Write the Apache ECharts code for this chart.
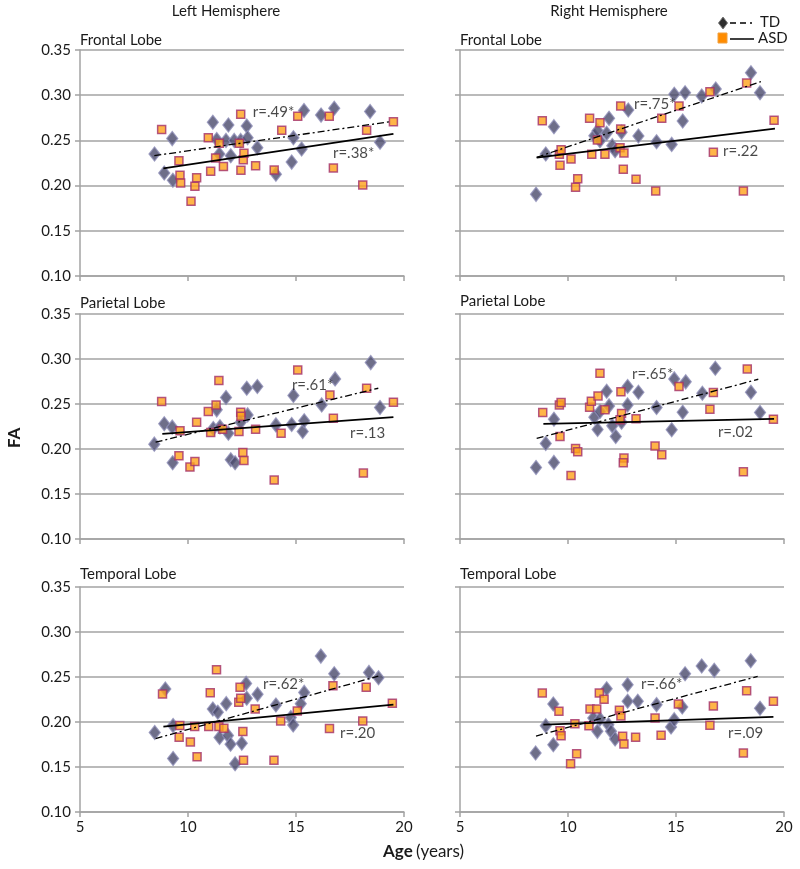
<!DOCTYPE html>
<html><head><meta charset="utf-8">
<script src="https://cdn.jsdelivr.net/npm/echarts@6/dist/echarts.min.js"></script>
<style>html,body{margin:0;padding:0;background:#fff}#c{width:800px;height:869px}</style>
</head><body><div id="c"></div><script>
// ---------- DATA ----------
const columnTitles = ['Left Hemisphere', 'Right Hemisphere'];
const panelTitles = ['Frontal Lobe', 'Frontal Lobe', 'Parietal Lobe', 'Parietal Lobe', 'Temporal Lobe', 'Temporal Lobe'];
const xTicks = [5, 10, 15, 20];
const yTicks = [0.10, 0.15, 0.20, 0.25, 0.30, 0.35];

const tdLeftFrontal = [[8.45,0.235],[8.9,0.214],[9.27,0.252],[9.3,0.206],[11.15,0.270],[11.33,0.251],[11.45,0.235],[11.76,0.250],[11.87,0.267],[11.98,0.233],[12.14,0.250],[12.44,0.250],[12.72,0.266],[12.76,0.253],[13.21,0.242],[14.07,0.2125],[14.8,0.226],[14.88,0.253],[15.26,0.2405],[15.37,0.283],[16.16,0.278],[16.77,0.2855],[18.43,0.282],[18.89,0.248]];
const asdLeftFrontal = [[8.78,0.262],[9.58,0.2276],[9.63,0.2114],[9.66,0.203],[10.14,0.1826],[10.32,0.1992],[10.4,0.2088],[10.94,0.253],[11.05,0.2158],[11.28,0.2305],[11.45,0.2468],[11.64,0.221],[12.38,0.2468],[12.44,0.2788],[12.45,0.217],[12.56,0.2287],[12.59,0.2357],[13.13,0.222],[13.99,0.2173],[14.34,0.2611],[15.08,0.2766],[16.54,0.2766],[16.73,0.2195],[18.09,0.2007],[18.27,0.2611],[19.51,0.2707]];

const tdRightFrontal = [[8.52,0.1903],[8.97,0.235],[9.35,0.2652],[11.22,0.2552],[11.37,0.2608],[11.48,0.2497],[11.79,0.2578],[11.9,0.2744],[12.05,0.2442],[12.18,0.2386],[12.48,0.2589],[12.79,0.2836],[13.26,0.2549],[14.1,0.2486],[14.8,0.2456],[14.92,0.301],[15.31,0.2715],[15.42,0.3028],[16.19,0.2991],[16.84,0.3069],[18.47,0.3249],[18.89,0.3028]];
const asdRightFrontal = [[8.81,0.2718],[9.6,0.2346],[9.63,0.2224],[9.68,0.2397],[10.14,0.2294],[10.35,0.1981],[10.45,0.2077],[11.0,0.2744],[11.1,0.2346],[11.36,0.2504],[11.48,0.2696],[11.71,0.2346],[12.44,0.2881],[12.44,0.2626],[12.41,0.242],[12.56,0.218],[12.59,0.2361],[13.15,0.2069],[14.06,0.194],[14.34,0.2744],[15.14,0.2881],[16.57,0.3039],[16.73,0.2368],[18.12,0.194],[18.27,0.3135],[19.54,0.2722]];

const tdLeftParietal = [[8.44,0.2054],[8.9,0.228],[9.27,0.2243],[9.29,0.1847],[11.33,0.2435],[11.17,0.2228],[11.48,0.2246],[11.76,0.2572],[11.87,0.2176],[11.98,0.188],[12.18,0.1847],[12.44,0.2298],[12.72,0.2675],[12.76,0.2379],[13.21,0.2694],[14.07,0.2268],[14.8,0.2272],[14.88,0.2594],[15.31,0.2194],[15.38,0.2313],[16.19,0.249],[16.81,0.2779],[18.46,0.296],[18.89,0.2461]];
const asdLeftParietal = [[8.78,0.2527],[9.58,0.1925],[9.63,0.2202],[10.09,0.1799],[10.32,0.1862],[10.4,0.2298],[10.94,0.2416],[11.05,0.2183],[11.3,0.249],[11.43,0.276],[11.6,0.222],[12.36,0.2194],[12.44,0.2409],[12.45,0.2365],[12.54,0.1962],[12.59,0.1873],[13.13,0.222],[13.99,0.1655],[14.31,0.2176],[15.08,0.2879],[16.57,0.2601],[16.73,0.2342],[18.12,0.1732],[18.27,0.2675],[19.51,0.252]];

const tdRightParietal = [[8.52,0.1795],[8.97,0.2061],[9.35,0.2331],[9.35,0.1851],[11.22,0.2354],[11.37,0.2217],[11.48,0.2416],[11.79,0.2642],[11.9,0.2479],[12.05,0.2257],[12.21,0.2139],[12.48,0.2298],[12.76,0.2694],[12.76,0.249],[13.26,0.2631],[14.1,0.2461],[14.8,0.2213],[14.92,0.2779],[15.31,0.2409],[15.45,0.2746],[16.22,0.262],[16.82,0.2897],[18.47,0.2631],[18.89,0.2405]];
const asdRightParietal = [[8.83,0.2405],[9.6,0.249],[9.68,0.2516],[9.63,0.2139],[10.14,0.1706],[10.35,0.2006],[10.45,0.1969],[11.0,0.2464],[11.08,0.2531],[11.39,0.259],[11.48,0.2842],[11.71,0.2435],[12.45,0.2635],[12.48,0.2394],[12.41,0.2324],[12.59,0.1899],[12.56,0.1847],[13.15,0.2335],[14.03,0.2032],[14.34,0.1936],[15.14,0.2694],[16.57,0.2442],[16.73,0.2627],[18.12,0.1747],[18.3,0.289],[19.51,0.2331]];

const tdLeftTemporal = [[8.46,0.1883],[8.95,0.2366],[9.31,0.196],[9.31,0.1595],[11.15,0.2145],[11.38,0.2108],[11.46,0.1827],[11.77,0.2204],[11.85,0.1849],[11.97,0.1753],[12.18,0.1536],[12.49,0.1764],[12.69,0.2429],[12.72,0.2263],[13.22,0.2307],[14.07,0.2189],[14.76,0.2049],[14.87,0.1968],[15.22,0.2204],[15.38,0.2329],[16.15,0.2732],[16.77,0.2536],[18.38,0.2551],[18.82,0.2492]];
const asdLeftTemporal = [[8.82,0.2311],[9.62,0.196],[9.59,0.1831],[10.11,0.1779],[10.31,0.1949],[10.42,0.1613],[10.96,0.1949],[11.03,0.2326],[11.32,0.2581],[11.43,0.1949],[11.66,0.1931],[12.35,0.2219],[12.41,0.2385],[12.44,0.2263],[12.54,0.1894],[12.57,0.1576],[13.11,0.2145],[13.98,0.1576],[14.29,0.2012],[15.06,0.2123],[16.55,0.1927],[16.71,0.2403],[18.09,0.2012],[18.25,0.2385],[19.46,0.2208]];

const tdRightTemporal = [[8.5,0.1656],[8.97,0.1959],[9.32,0.22],[9.32,0.1748],[11.17,0.2044],[11.36,0.1896],[11.48,0.2033],[11.79,0.237],[11.87,0.197],[11.99,0.1896],[12.18,0.1811],[12.76,0.2415],[12.76,0.223],[13.23,0.223],[14.1,0.2193],[14.77,0.1944],[14.92,0.2026],[15.29,0.2167],[15.42,0.2537],[16.19,0.2622],[16.77,0.2574],[18.46,0.2681],[18.89,0.2152]];
const asdRightTemporal = [[8.81,0.2322],[9.58,0.2119],[9.63,0.1904],[9.68,0.1848],[10.12,0.1537],[10.32,0.1981],[10.4,0.1648],[10.97,0.1959],[11.02,0.2144],[11.33,0.2144],[11.45,0.2322],[11.67,0.2252],[12.38,0.213],[12.45,0.2067],[12.53,0.1841],[12.59,0.1756],[13.13,0.183],[14.03,0.2044],[14.31,0.1852],[15.11,0.22],[16.57,0.1963],[16.73,0.2178],[18.12,0.1656],[18.27,0.2348],[19.51,0.223]];

// trend line end points [x0,y0],[x1,y1]
const tdTrend = [
  [[8.44,0.2331],[19.35,0.2707]],
  [[8.55,0.2313],[18.93,0.3150]],
  [[8.50,0.2076],[18.81,0.2675]],
  [[8.55,0.2117],[18.81,0.2775]],
  [[8.50,0.1816],[18.81,0.2510]],
  [[8.52,0.1844],[18.78,0.2507]]
];
const asdTrend = [
  [[8.86,0.2191],[19.51,0.2571]],
  [[8.55,0.2309],[19.58,0.2630]],
  [[8.81,0.2169],[19.51,0.2354]],
  [[8.86,0.2280],[19.54,0.2335]],
  [[8.86,0.1949],[19.51,0.2193]],
  [[8.86,0.1970],[19.51,0.2056]]
];
const tdR = ['r=.49*', 'r=.75*', 'r=.61*', 'r=.65*', 'r=.62*', 'r=.66*'];
const asdR = ['r=.38*', 'r=.22', 'r=.13', 'r=.02', 'r=.20', 'r=.09'];
// label anchor positions (data coords)
const tdRPos = [[13.0,0.2814],[13.06,0.2903],[14.81,0.2713],[12.96,0.2835],[13.47,0.2421],[13.38,0.2421]];
const asdRPos = [[16.71,0.2361],[17.18,0.2383],[17.5,0.2181],[16.94,0.2192],[17.04,0.1878],[17.41,0.1878]];

const tdSets = [tdLeftFrontal, tdRightFrontal, tdLeftParietal, tdRightParietal, tdLeftTemporal, tdRightTemporal];
const asdSets = [asdLeftFrontal, asdRightFrontal, asdLeftParietal, asdRightParietal, asdLeftTemporal, asdRightTemporal];

// ---------- LAYOUT ----------
const FONT = 'Lato';
const TXT = '#1a1a1a';
const GRIDC = '#a3a3a3';
const colLeft = [80, 460];
const rowTop = [50, 314, 587];
const rowH = [226, 225, 225];
const W = 324;

const grids = [], xAxes = [], yAxes = [], series = [], titles = [];
for (let i = 0; i < 6; i++) {
  const col = i % 2, row = Math.floor(i / 2);
  grids.push({left: colLeft[col], top: rowTop[row], width: W, height: rowH[row], containLabel: false});
  xAxes.push({
    type: 'value', gridIndex: i, min: 5, max: 20, interval: 5,
    axisLine: {show: true, lineStyle: {color: GRIDC, width: 1.5}},
    axisTick: {show: true, length: 5, lineStyle: {color: GRIDC, width: 1.5}},
    axisLabel: {show: row === 2, fontFamily: FONT, fontSize: 15, color: TXT, margin: 8},
    splitLine: {show: false}
  });
  yAxes.push({
    type: 'value', gridIndex: i, min: 0.10, max: 0.35, interval: 0.05,
    axisLine: {show: true, lineStyle: {color: GRIDC, width: 1.5}},
    axisTick: {show: true, length: 5, lineStyle: {color: GRIDC, width: 1.5}},
    axisLabel: {show: col === 0, fontFamily: FONT, fontSize: 15, color: TXT, margin: 9,
      formatter: v => v.toFixed(2)},
    splitLine: {show: true, lineStyle: {color: GRIDC, width: 1.6}}
  });
  series.push({
    type: 'scatter', name: 'TD', xAxisIndex: i, yAxisIndex: i, data: tdSets[i],
    symbol: 'diamond', symbolSize: [11, 14],
    itemStyle: {color: '#4a4a6c', borderColor: '#8e8eb8', borderWidth: 1.3}, z: 3
  });
  series.push({
    type: 'scatter', name: 'ASD', xAxisIndex: i, yAxisIndex: i, data: asdSets[i],
    symbol: 'rect', symbolSize: 8,
    itemStyle: {color: '#ffa31a', borderColor: '#a3306a', borderWidth: 1.5}, z: 4
  });
  series.push({
    type: 'line', xAxisIndex: i, yAxisIndex: i, data: tdTrend[i], symbol: 'none', silent: true,
    lineStyle: {color: '#000', width: 1.3, type: [7, 3, 2, 3]}, z: 5
  });
  series.push({
    type: 'line', xAxisIndex: i, yAxisIndex: i, data: asdTrend[i], symbol: 'none', silent: true,
    lineStyle: {color: '#000', width: 1.8}, z: 5
  });
  series.push({
    type: 'scatter', xAxisIndex: i, yAxisIndex: i, symbolSize: 0, silent: true, z: 6,
    data: [{value: tdRPos[i], name: tdR[i]}, {value: asdRPos[i], name: asdR[i]}],
    label: {show: true, position: 'right', distance: 0, formatter: p => p.name,
      fontFamily: FONT, fontSize: 15, color: TXT}
  });
  const tTop = [33, 296, 567][row] - (col === 1 && row === 1 ? 2 : 0);
  titles.push({text: panelTitles[i], left: colLeft[col], top: tTop, padding: 0,
    textStyle: {fontFamily: FONT, fontSize: 15, fontWeight: 'normal', color: TXT}});
}
titles.push({text: columnTitles[0], left: 226, top: 4, textAlign: 'center', padding: 0,
  textStyle: {fontFamily: FONT, fontSize: 15, fontWeight: 'normal', color: TXT}});
titles.push({text: columnTitles[1], left: 609, top: 4, textAlign: 'center', padding: 0,
  textStyle: {fontFamily: FONT, fontSize: 15, fontWeight: 'normal', color: TXT}});

const graphic = [
  {type: 'text', rotation: Math.PI / 2, style: {text: 'FA', fontFamily: FONT, fontSize: 17, fontWeight: 'bold', fill: TXT}, originX: 0, originY: 0,
   x: 6, y: 448},
  {type: 'text', left: 383, top: 843, style: {rich: {b: {fontFamily: FONT, fontSize: 17, fontWeight: 'bold', fill: TXT}, n: {fontFamily: FONT, fontSize: 17, fill: TXT}}, text: '{b|Age} {n|(years)}'}},
  // legend
  {type: 'polygon', shape: {points: [[723, 17], [727.5, 23], [723, 29], [718.5, 23]]}, style: {fill: '#2e2e2e', stroke: '#777', lineWidth: 1}},
  {type: 'line', shape: {x1: 730, y1: 23, x2: 752, y2: 23}, style: {stroke: '#000', lineWidth: 1.5, lineDash: [6, 4]}},
  {type: 'text', x: 760, y: 15, style: {text: 'TD', fontFamily: FONT, fontSize: 15, fill: TXT}},
  {type: 'rect', shape: {x: 718, y: 33, width: 9, height: 10}, style: {fill: '#ff8c00', stroke: '#f0a040', lineWidth: 1}},
  {type: 'line', shape: {x1: 730, y1: 39, x2: 754, y2: 39}, style: {stroke: '#000', lineWidth: 1.5}},
  {type: 'text', x: 758, y: 31, style: {text: 'ASD', fontFamily: FONT, fontSize: 15, fill: TXT}}
];

const chart = echarts.init(document.getElementById('c'), null, {renderer: 'canvas'});
chart.setOption({
  backgroundColor: '#fff',
  animation: false,
  title: titles,
  grid: grids, xAxis: xAxes, yAxis: yAxes, series: series,
  graphic: graphic
});
</script></body></html>
